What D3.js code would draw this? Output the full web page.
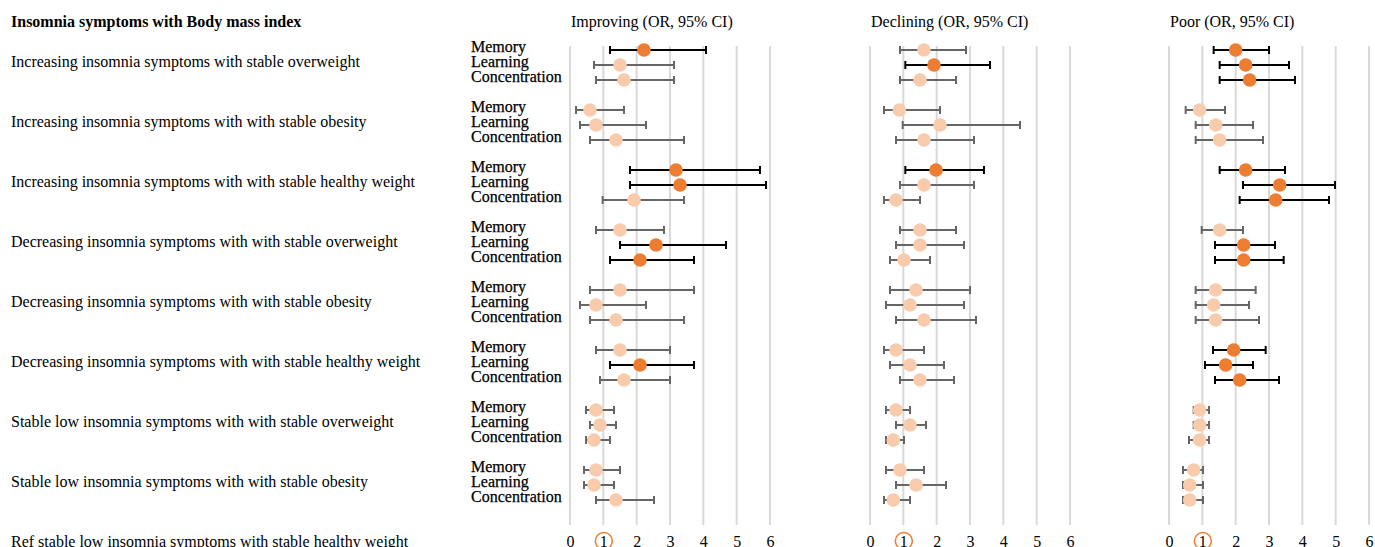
<!DOCTYPE html>
<html><head><meta charset="utf-8">
<script src="https://cdn.jsdelivr.net/npm/d3@7"></script>
<style>body{margin:0;background:#fff;overflow:hidden}svg{display:block}</style>
</head><body><svg id="c" width="1375" height="547"></svg>
<script>
const title = "Insomnia symptoms with Body mass index";
const groups = [
  "Increasing insomnia symptoms with stable overweight",
  "Increasing insomnia symptoms with with stable obesity",
  "Increasing insomnia symptoms with with stable healthy weight",
  "Decreasing insomnia symptoms with with stable overweight",
  "Decreasing insomnia symptoms with with stable obesity",
  "Decreasing insomnia symptoms with with stable healthy weight",
  "Stable low insomnia symptoms with with stable overweight",
  "Stable low insomnia symptoms with with stable obesity",
  "Ref stable low insomnia symptoms with stable healthy weight"
];
const items = ["Memory", "Learning", "Concentration"];
const panels = ["Improving (OR, 95% CI)", "Declining (OR, 95% CI)", "Poor (OR, 95% CI)"];
const tickValues = [0, 1, 2, 3, 4, 5, 6];

// [OR, lower, upper] per group (8 non-ref groups) x item
const improving = [
  [[2.22,1.2,4.08],[1.5,0.72,3.12],[1.62,0.78,3.12]],
  [[0.6,0.18,1.62],[0.78,0.3,2.28],[1.38,0.6,3.42]],
  [[3.18,1.8,5.7],[3.3,1.8,5.88],[1.92,0.98,3.42]],
  [[1.5,0.78,2.82],[2.58,1.5,4.68],[2.1,1.2,3.72]],
  [[1.5,0.6,3.72],[0.78,0.3,2.28],[1.38,0.6,3.42]],
  [[1.5,0.78,3.0],[2.1,1.2,3.72],[1.62,0.9,3.0]],
  [[0.78,0.48,1.32],[0.9,0.6,1.38],[0.72,0.48,1.2]],
  [[0.78,0.42,1.5],[0.72,0.42,1.32],[1.38,0.78,2.52]]
];
const declining = [
  [[1.62,0.9,2.88],[1.92,1.06,3.6],[1.5,0.9,2.58]],
  [[0.88,0.42,2.1],[2.1,0.98,4.5],[1.62,0.78,3.12]],
  [[1.98,1.06,3.42],[1.62,0.9,3.12],[0.78,0.42,1.5]],
  [[1.5,0.9,2.58],[1.5,0.78,2.82],[1.02,0.6,1.8]],
  [[1.38,0.6,3.0],[1.2,0.48,2.82],[1.62,0.78,3.18]],
  [[0.78,0.42,1.62],[1.2,0.6,2.22],[1.5,0.9,2.52]],
  [[0.78,0.48,1.2],[1.2,0.78,1.68],[0.7,0.48,1.02]],
  [[0.9,0.48,1.62],[1.38,0.78,2.28],[0.7,0.42,1.2]]
];
const poor = [
  [[2.0,1.34,3.0],[2.3,1.52,3.6],[2.42,1.52,3.78]],
  [[0.92,0.5,1.68],[1.4,0.8,2.52],[1.52,0.8,2.82]],
  [[2.3,1.52,3.48],[3.32,2.22,4.98],[3.2,2.12,4.8]],
  [[1.52,0.98,2.22],[2.24,1.38,3.18],[2.24,1.38,3.44]],
  [[1.4,0.8,2.6],[1.34,0.8,2.4],[1.4,0.8,2.7]],
  [[1.94,1.32,2.9],[1.7,1.08,2.52],[2.12,1.38,3.3]],
  [[0.92,0.74,1.2],[0.92,0.74,1.2],[0.92,0.6,1.2]],
  [[0.74,0.42,1.02],[0.62,0.42,1.02],[0.62,0.42,1.02]]
];
const panelData = [improving, declining, poor];

const font = "'Liberation Serif','Times New Roman',serif";
const svg = d3.select("#c");
const orange = "#ED7D31", peach = "#F8CBAD";

const yBand = d3.scaleBand().domain(groups).range([31, 571]).paddingInner(0).paddingOuter(0);
const yItem = d3.scalePoint().domain(items).range([19, 49]);
const groupCenter = g => yBand(g) + yBand.bandwidth() / 2;

svg.append("text").attr("x", 11).attr("y", 21).attr("dy", "0.35em")
  .attr("font-family", font).attr("font-size", 16).attr("font-weight", "bold")
  .text(title);

svg.selectAll("text.grp").data(groups).join("text").attr("class", "grp")
  .attr("x", 11).attr("y", d => groupCenter(d)).attr("dy", "0.35em")
  .attr("font-family", font).attr("font-size", 16).attr("fill", "#000")
  .text(d => d);

// item labels
const itemRows = [];
groups.slice(0, 8).forEach(g => items.forEach(it => itemRows.push({g, it})));
svg.selectAll("text.item").data(itemRows).join("text").attr("class", "item")
  .attr("x", 471).attr("y", d => yBand(d.g) + yItem(d.it) - 4).attr("dy", "0.35em")
  .attr("font-family", font).attr("font-size", 16).attr("fill", "#000")
  .attr("stroke", "#000").attr("stroke-width", 0.25)
  .text(d => d.it);

const panelX = [570, 870, 1169];
const panelW = 200;

panels.forEach((p, pi) => {
  const x = d3.scaleLinear().domain([0, 6]).range([panelX[pi], panelX[pi] + panelW]);
  const gp = svg.append("g");
  gp.append("text").attr("x", x(0) + 1).attr("y", 21).attr("dy", "0.35em")
    .attr("font-family", font).attr("font-size", 16).text(p);

  gp.selectAll("line.grid").data(tickValues).join("line").attr("class", "grid")
    .attr("x1", d => x(d)).attr("x2", d => x(d)).attr("y1", 46).attr("y2", 525)
    .attr("stroke", "#d9d9d9").attr("stroke-width", 2);

  const yT = groupCenter(groups[8]);
  const axis = d3.axisBottom(x).tickValues(tickValues).tickFormat(d3.format("d")).tickSize(0).tickPadding(0);
  const ax = gp.append("g").attr("transform", `translate(0,${yT})`).call(axis);
  ax.select(".domain").remove();
  ax.selectAll("text").attr("font-family", font).attr("font-size", 16).attr("fill", "#000")
    .attr("y", 0).attr("dy", "0.35em");
  ax.selectAll(".tick").filter(d => d === 1).append("circle")
    .attr("r", 8.5).attr("cy", 0).attr("fill", "none").attr("stroke", orange).attr("stroke-width", 1.5);

  const rows = [];
  panelData[pi].forEach((grp, gi) => grp.forEach((v, ii) => rows.push({
    g: groups[gi], it: items[ii], or: v[0], lo: v[1], hi: v[2], sig: v[1] > 1
  })));
  const yy = d => yBand(d.g) + yItem(d.it);

  const eb = gp.selectAll("g.eb").data(rows).join("g").attr("class", "eb")
    .attr("stroke", d => d.sig ? "#000" : "#666").attr("stroke-width", 2);
  eb.append("line").attr("x1", d => x(d.lo)).attr("x2", d => x(d.hi)).attr("y1", yy).attr("y2", yy);
  eb.append("line").attr("x1", d => x(d.lo)).attr("x2", d => x(d.lo)).attr("y1", d => yy(d) - 4).attr("y2", d => yy(d) + 4);
  eb.append("line").attr("x1", d => x(d.hi)).attr("x2", d => x(d.hi)).attr("y1", d => yy(d) - 4).attr("y2", d => yy(d) + 4);

  gp.selectAll("circle.dot").data(rows).join("circle").attr("class", "dot")
    .attr("cx", d => x(d.or)).attr("cy", yy).attr("r", 6.8)
    .attr("fill", d => d.sig ? orange : peach);
});
</script></body></html>
